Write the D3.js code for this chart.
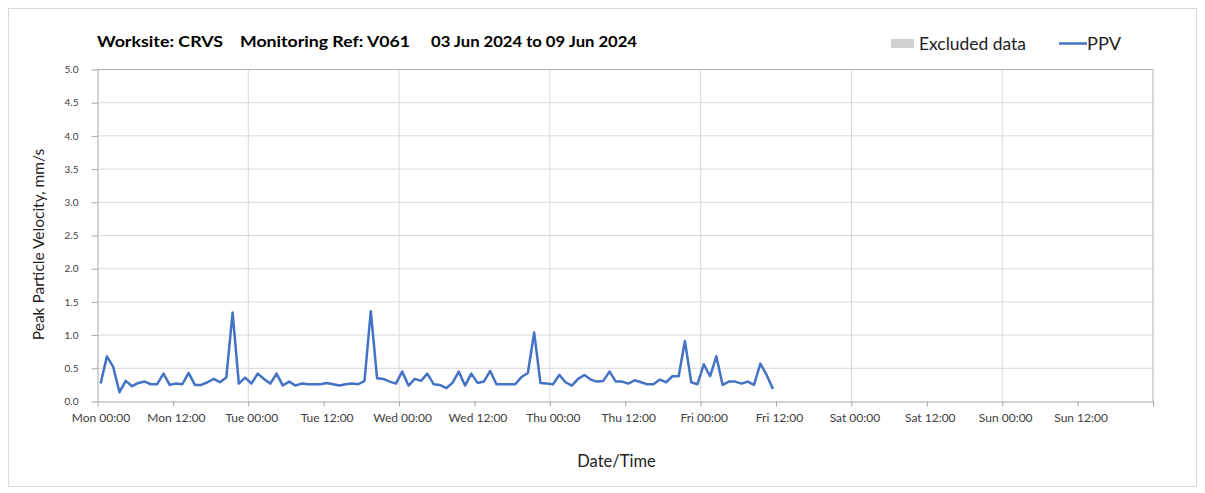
<!DOCTYPE html>
<html>
<head>
<meta charset="utf-8">
<script src="https://cdn.jsdelivr.net/npm/d3@7"></script>
<style>
  body { margin: 0; background: #fff; }
  text { font-family: Lato, "Open Sans", sans-serif; }
</style>
</head>
<body>
<div id="chart"></div>
<script>
// Hourly peak readings, first reading Mon 03 Jun 2024 00:30
const ppvValues = [
  0.27, 0.68, 0.52, 0.14, 0.31, 0.23, 0.28, 0.30, 0.26, 0.26, 0.42, 0.25,
  0.27, 0.26, 0.43, 0.25, 0.25, 0.29, 0.34, 0.29, 0.36, 1.34, 0.27, 0.36,
  0.27, 0.42, 0.34, 0.27, 0.42, 0.24, 0.30, 0.24, 0.27, 0.26, 0.26, 0.26,
  0.28, 0.26, 0.24, 0.26, 0.27, 0.26, 0.31, 1.36, 0.35, 0.34, 0.30, 0.27,
  0.45, 0.24, 0.34, 0.31, 0.42, 0.26, 0.25, 0.20, 0.28, 0.45, 0.24, 0.42,
  0.28, 0.30, 0.46, 0.26, 0.26, 0.26, 0.26, 0.37, 0.43, 1.04, 0.28, 0.27,
  0.26, 0.40, 0.29, 0.24, 0.34, 0.40, 0.33, 0.30, 0.31, 0.45, 0.30, 0.30,
  0.27, 0.32, 0.29, 0.26, 0.26, 0.33, 0.29, 0.38, 0.38, 0.91, 0.29, 0.26,
  0.56, 0.38, 0.68, 0.25, 0.30, 0.30, 0.27, 0.30, 0.25, 0.57, 0.40, 0.19
]
const firstReading = new Date(2024, 5, 3, 0, 30)
const weekStart = new Date(2024, 5, 3, 0, 0)
const weekEnd = new Date(2024, 5, 10, 0, 0)

const xTickLabels = [
  "Mon 00:00", "Mon 12:00", "Tue 00:00", "Tue 12:00", "Wed 00:00", "Wed 12:00",
  "Thu 00:00", "Thu 12:00", "Fri 00:00", "Fri 12:00", "Sat 00:00", "Sat 12:00",
  "Sun 00:00", "Sun 12:00", ""
]
const yTickValues = [0, 0.5, 1, 1.5, 2, 2.5, 3, 3.5, 4, 4.5, 5]

const titleParts = ["Worksite: CRVS", "Monitoring Ref: V061", "03 Jun 2024 to 09 Jun 2024"]
const legendLabels = ["Excluded data", "PPV"]

const svgWidth = 1205
const svgHeight = 493

let margin = { top: 69.5, right: 52, bottom: 91.5, left: 97.5 }
let width = svgWidth - margin.left - margin.right
let height = svgHeight - margin.top - margin.bottom

let svg = d3.select("#chart")
  .append("svg")
  .attr("width", svgWidth)
  .attr("height", svgHeight)

// outer chart frame
svg.append("rect")
  .attr("x", 8.5).attr("y", 8.5)
  .attr("width", 1188).attr("height", 478)
  .attr("fill", "#fff")
  .attr("stroke", "#d9d9d9")

let data = ppvValues.map((v, i) => ({ time: d3.timeHour.offset(firstReading, i), value: v }))

let x = d3.scaleTime().domain([weekStart, weekEnd]).range([0, width])
let y = d3.scaleLinear().domain([0, 5]).range([height, 0])

let chartGroup = svg.append("g")
  .attr("transform", `translate(${margin.left}, ${margin.top})`)

// gridlines
chartGroup.append("g")
  .selectAll("line")
  .data(yTickValues.filter(d => d > 0))
  .enter()
  .append("line")
  .attr("x1", 0).attr("x2", width)
  .attr("y1", d => y(d)).attr("y2", d => y(d))
  .attr("stroke", "#d9d9d9")

chartGroup.append("g")
  .selectAll("line")
  .data(d3.timeDay.range(d3.timeDay.offset(weekStart, 1), weekEnd))
  .enter()
  .append("line")
  .attr("x1", d => x(d)).attr("x2", d => x(d))
  .attr("y1", 0).attr("y2", height)
  .attr("stroke", "#d9d9d9")

// plot border top/right
chartGroup.append("path")
  .attr("d", `M0,0H${width}V${height}`)
  .attr("fill", "none")
  .attr("stroke", "#b3b3b3")

let xTicks = d3.timeHour.every(12).range(weekStart, d3.timeHour.offset(weekEnd, 1))

let bottomAxis = d3.axisBottom(x)
  .tickValues(xTicks)
  .tickSize(5)
  .tickSizeOuter(0)
  .tickFormat((d, i) => xTickLabels[i])

let leftAxis = d3.axisLeft(y)
  .tickValues(yTickValues)
  .tickSize(6)
  .tickSizeOuter(0)
  .tickPadding(13)
  .tickFormat(d3.format(".1f"))

let xAxis = chartGroup.append("g")
  .attr("transform", `translate(0, ${height})`)
  .call(bottomAxis)
xAxis.selectAll("text")
  .attr("dx", 3)
  .attr("dy", "1.05em")
  .style("font-size", "12px")
  .style("fill", "#404040")

let yAxis = chartGroup.append("g").call(leftAxis)
yAxis.selectAll("text")
  .style("font-size", "10px")
  .style("fill", "#404040")

chartGroup.selectAll(".domain, .tick line").attr("stroke", "#a6a6a6")

// the PPV line
let line = d3.line()
  .x(d => x(d.time))
  .y(d => y(d.value))

chartGroup.append("path")
  .datum(data)
  .attr("d", line)
  .attr("fill", "none")
  .attr("stroke", "#4472c4")
  .attr("stroke-width", 2.5)
  .attr("stroke-linejoin", "round")

// title
let titleX = [97, 240, 431]
let titleW = [126, 170, 206]
svg.append("g")
  .selectAll("text")
  .data(titleParts)
  .enter()
  .append("text")
  .attr("x", (d, i) => titleX[i])
  .attr("y", 47)
  .attr("textLength", (d, i) => titleW[i])
  .attr("lengthAdjust", "spacingAndGlyphs")
  .style("font-size", "15px")
  .style("font-weight", "bold")
  .style("fill", "#000")
  .text(d => d)

// legend
svg.append("rect")
  .attr("x", 891).attr("y", 39)
  .attr("width", 23).attr("height", 9)
  .attr("fill", "#d0d0d0")
svg.append("text")
  .attr("x", 919).attr("y", 50)
  .attr("textLength", 107)
  .attr("lengthAdjust", "spacingAndGlyphs")
  .style("font-size", "16.5px")
  .style("fill", "#222")
  .text(legendLabels[0])
svg.append("line")
  .attr("x1", 1059).attr("x2", 1087)
  .attr("y1", 43.5).attr("y2", 43.5)
  .attr("stroke", "#4472c4")
  .attr("stroke-width", 2.5)
svg.append("text")
  .attr("x", 1087).attr("y", 50)
  .attr("textLength", 34)
  .attr("lengthAdjust", "spacingAndGlyphs")
  .style("font-size", "16.5px")
  .style("fill", "#222")
  .text(legendLabels[1])

// axis titles
svg.append("text")
  .attr("transform", `translate(43.5, ${margin.top + height / 2 + 9}) rotate(-90)`)
  .attr("text-anchor", "middle")
  .style("font-size", "15.5px")
  .style("fill", "#222")
  .text("Peak Particle Velocity, mm/s")

svg.append("text")
  .attr("x", 616.5)
  .attr("y", 467)
  .attr("text-anchor", "middle")
  .style("font-size", "16.5px")
  .style("fill", "#222")
  .text("Date/Time")
</script>
</body>
</html>
